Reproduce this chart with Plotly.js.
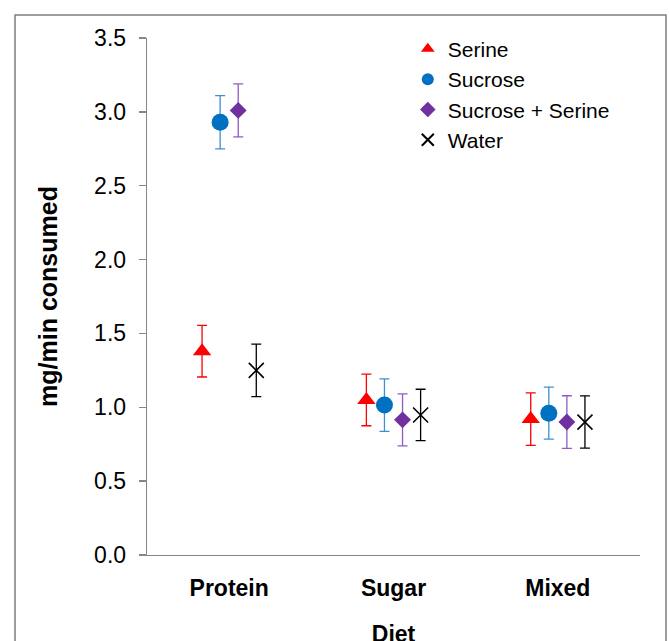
<!DOCTYPE html>
<html>
<head>
<meta charset="utf-8">
<script src="https://cdn.plot.ly/plotly-3.0.1.min.js"></script>
<style>
  html, body { margin: 0; padding: 0; background: #ffffff; overflow: hidden; }
  #chart { width: 669px; height: 665px; }
</style>
</head>
<body>
<div id="chart"></div>
<script>
// Data
var diets = ['Protein', 'Sugar', 'Mixed'];
var serineMean = [1.38, 1.05, 0.92];
var serineErr = [0.175, 0.175, 0.178];
var sucroseMean = [2.93, 1.015, 0.96];
var sucroseErr = [0.18, 0.178, 0.176];
var sucSerMean = [3.01, 0.915, 0.90];
var sucSerErr = [0.18, 0.176, 0.178];
var waterMean = [1.25, 0.948, 0.90];
var waterErr = [0.178, 0.174, 0.177];
var yTickVals = [0, 0.5, 1.0, 1.5, 2.0, 2.5, 3.0, 3.5];

function errObj(arr, color) {
  return { type: 'data', array: arr, visible: true, color: color, thickness: 1.3, width: 5 };
}

var traces = [
  {
    name: 'Serine', type: 'scatter', mode: 'markers', x: diets, y: serineMean,
    marker: { symbol: 'triangle-up', size: 16, color: '#ff0000' },
    error_y: errObj(serineErr, '#ff0000')
  },
  {
    name: 'Sucrose', type: 'scatter', mode: 'markers', x: diets, y: sucroseMean,
    marker: { symbol: 'circle', size: 17, color: '#0070c0' },
    error_y: errObj(sucroseErr, '#3d8fd6')
  },
  {
    name: 'Sucrose + Serine', type: 'scatter', mode: 'markers', x: diets, y: sucSerMean,
    marker: { symbol: 'diamond', size: 13, color: '#7030a0' },
    error_y: errObj(sucSerErr, '#8e5cc2')
  },
  {
    name: 'Water', type: 'scatter', mode: 'markers', x: diets, y: waterMean,
    marker: { symbol: 'x-thin-open', size: 15, color: '#000000', line: { color: '#000000', width: 1.6 } },
    error_y: errObj(waterErr, '#000000')
  }
];

var layout = {
  width: 669, height: 665,
  margin: { l: 147, r: 29, t: 38, b: 110 },
  paper_bgcolor: '#ffffff', plot_bgcolor: '#ffffff',
  font: { family: 'Arial, "Liberation Sans", sans-serif', color: '#000000' },
  showlegend: true,
  scattermode: 'group',
  scattergap: 0.56,
  legend: {
    x: 0.529, y: 1.018, xanchor: 'left', yanchor: 'top',
    font: { size: 21, color: '#000000' },
    bgcolor: 'rgba(0,0,0,0)', itemsizing: 'constant', tracegroupgap: 0
  },
  xaxis: {
    type: 'category',
    showgrid: false, zeroline: false,
    showline: true, linecolor: '#868686', linewidth: 1.3,
    ticks: '', ticklabelstandoff: 12,
    tickfont: { size: 23, family: 'Arial, "Liberation Sans", sans-serif', weight: 'bold' },
    title: { text: '<b>Diet</b>', font: { size: 23 }, standoff: 26 },
    fixedrange: true
  },
  yaxis: {
    range: [0, 3.5],
    tickvals: yTickVals,
    tickformat: '.1f',
    showgrid: false, zeroline: false,
    showline: true, linecolor: '#868686', linewidth: 1.3,
    ticks: 'outside', ticklen: 7, tickcolor: '#868686', tickwidth: 1.3,
    ticklabelstandoff: 8,
    tickfont: { size: 23 },
    title: { text: '<b>mg/min consumed</b>', font: { size: 25 }, standoff: 29 },
    fixedrange: true
  },
  shapes: [
    {
      type: 'rect', xref: 'paper', yref: 'paper', layer: 'below',
      x0: -0.2677, x1: 1.0527, y0: -0.2, y1: 1.0445,
      line: { color: '#7f7f7f', width: 1.5 }, fillcolor: 'rgba(0,0,0,0)'
    }
  ]
};

Plotly.newPlot('chart', traces, layout, { displayModeBar: false, staticPlot: true });
</script>
</body>
</html>
